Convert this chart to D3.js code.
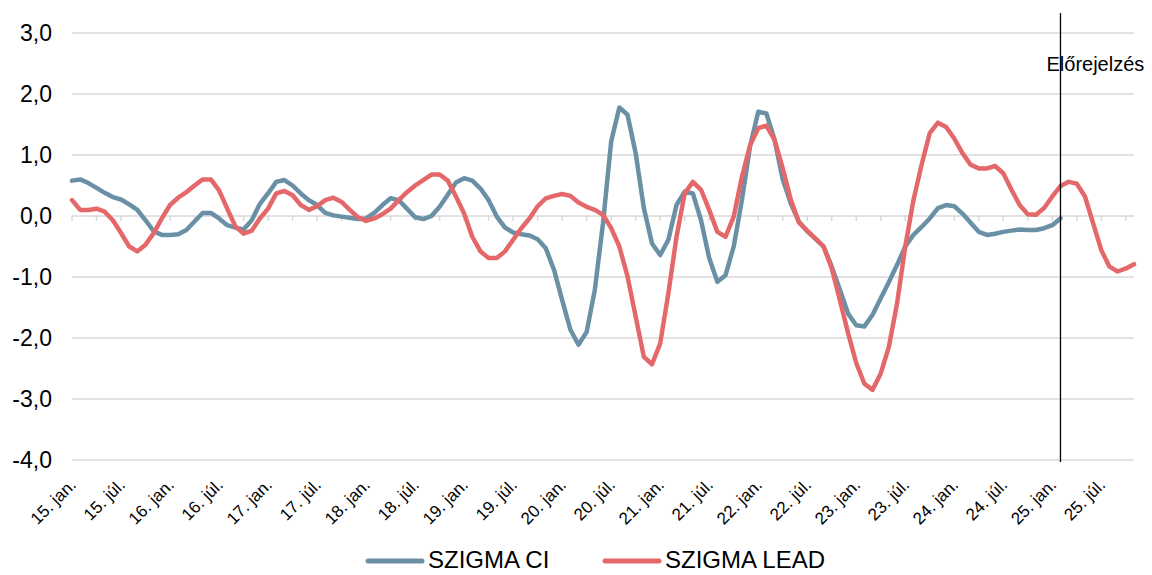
<!DOCTYPE html>
<html>
<head>
<meta charset="utf-8">
<script src="https://cdn.jsdelivr.net/npm/d3@7"></script>
<style>
  body { margin: 0; background: #fff; }
  svg { display: block; font-family: "Liberation Sans", Arial, sans-serif; }
</style>
</head>
<body>
<script>
// monthly data, 2015 jan .. 2025 nov
var months = d3.timeMonths(new Date(2015, 0, 1), new Date(2025, 11, 1));

var tickLabels = ["15. jan.", "15. júl.", "16. jan.", "16. júl.", "17. jan.", "17. júl.",
  "18. jan.", "18. júl.", "19. jan.", "19. júl.", "20. jan.", "20. júl.", "21. jan.",
  "21. júl.", "22. jan.", "22. júl.", "23. jan.", "23. júl.", "24. jan.", "24. júl.",
  "25. jan.", "25. júl."];

var yTicks = [3, 2, 1, 0, -1, -2, -3, -4];

var seriesNames = ["SZIGMA CI", "SZIGMA LEAD"];
var seriesColors = ["#6a90a6", "#e4686a"];

var ci = [0.58, 0.60, 0.54, 0.46, 0.38, 0.31, 0.27, 0.19, 0.10, -0.07,
  -0.25, -0.31, -0.31, -0.30, -0.23, -0.09, 0.05, 0.05, -0.04, -0.15,
  -0.19, -0.22, -0.07, 0.20, 0.37, 0.56, 0.59, 0.50, 0.37, 0.26,
  0.18, 0.05, 0.01, -0.01, -0.03, -0.05, -0.04, 0.05, 0.18, 0.29,
  0.26, 0.12, -0.02, -0.05, 0.00, 0.15, 0.35, 0.55, 0.62, 0.58,
  0.45, 0.26, -0.01, -0.19, -0.27, -0.30, -0.32, -0.38, -0.53, -0.88,
  -1.38, -1.86, -2.11, -1.90, -1.21, -0.12, 1.22, 1.78, 1.66, 1.03,
  0.13, -0.45, -0.64, -0.39, 0.18, 0.40, 0.37, -0.07, -0.69, -1.08,
  -0.97, -0.50, 0.26, 1.14, 1.71, 1.68, 1.25, 0.60, 0.20, -0.10,
  -0.25, -0.37, -0.50, -0.83, -1.21, -1.60, -1.79, -1.81, -1.62, -1.35,
  -1.08, -0.80, -0.50, -0.31, -0.18, -0.04, 0.13, 0.18, 0.16, 0.04,
  -0.11, -0.26, -0.31, -0.29, -0.26, -0.24, -0.22, -0.23, -0.23, -0.20,
  -0.15, -0.04];

var lead = [0.26, 0.10, 0.10, 0.12, 0.07, -0.07, -0.28, -0.50, -0.58, -0.47,
  -0.28, -0.04, 0.18, 0.30, 0.39, 0.50, 0.60, 0.60, 0.42, 0.12,
  -0.17, -0.29, -0.24, -0.04, 0.12, 0.37, 0.41, 0.34, 0.18, 0.10,
  0.16, 0.26, 0.30, 0.23, 0.10, -0.02, -0.08, -0.04, 0.03, 0.12,
  0.26, 0.39, 0.50, 0.59, 0.68, 0.68, 0.58, 0.32, 0.04, -0.34,
  -0.58, -0.69, -0.69, -0.58, -0.39, -0.20, -0.04, 0.16, 0.29, 0.33,
  0.36, 0.33, 0.22, 0.15, 0.10, 0.02, -0.20, -0.50, -0.99, -1.65,
  -2.31, -2.43, -2.09, -1.27, -0.34, 0.37, 0.56, 0.43, 0.10, -0.26,
  -0.34, -0.01, 0.64, 1.16, 1.44, 1.48, 1.25, 0.78, 0.26, -0.11,
  -0.24, -0.37, -0.50, -0.86, -1.38, -1.92, -2.41, -2.75, -2.85, -2.58,
  -2.14, -1.43, -0.50, 0.26, 0.84, 1.36, 1.53, 1.46, 1.27, 1.03,
  0.84, 0.78, 0.78, 0.82, 0.70, 0.43, 0.18, 0.03, 0.02, 0.13,
  0.32, 0.49, 0.56, 0.53, 0.32, -0.12, -0.56, -0.83, -0.91, -0.86,
  -0.79];

var forecastIndex = 121; // 25. feb.
var forecastLabel = "Előrejelzés";

var width = 1152, height = 575;
var svg = d3.select("body").append("svg").attr("width", width).attr("height", height);

var x = d3.scalePoint().domain(d3.range(months.length)).range([72, 1134]);
var y = d3.scaleLinear().domain([-4, 3]).range([460, 33]);

// gridlines
svg.append("g").selectAll("line").data(yTicks).enter().append("line")
  .attr("x1", 72).attr("x2", 1134)
  .attr("y1", function(d){ return y(d); }).attr("y2", function(d){ return y(d); })
  .attr("stroke", "#d9d9d9").attr("stroke-width", 1.5);

// small quarterly ticks on the zero line
svg.append("g").selectAll("line").data(d3.range(0, months.length, 3)).enter().append("line")
  .attr("x1", function(d){ return x(d); }).attr("x2", function(d){ return x(d); })
  .attr("y1", y(0)).attr("y2", y(0) + 5)
  .attr("stroke", "#d9d9d9").attr("stroke-width", 1.5);

// y labels
svg.append("g").selectAll("text").data(yTicks).enter().append("text")
  .attr("x", 52).attr("y", function(d){ return y(d); }).attr("dy", "0.36em")
  .attr("text-anchor", "end").attr("font-size", "23px").attr("fill", "#000")
  .text(function(d){ return d3.format(".1f")(d).replace(".", ",").replace("−", "-"); });

// x labels every 6 months
svg.append("g").selectAll("text").data(tickLabels).enter().append("text")
  .attr("transform", function(d, i){ return "translate(" + (x(i * 6) + 5) + ",486) rotate(-45)"; })
  .attr("text-anchor", "end").attr("font-size", "17px").attr("fill", "#000")
  .text(function(d){ return d; });

// lines
var line = d3.line()
  .x(function(d, i){ return x(i); })
  .y(function(d){ return y(d); });

[ci, lead].forEach(function(s, k){
  svg.append("path").datum(s)
    .attr("d", line)
    .attr("fill", "none")
    .attr("stroke", seriesColors[k])
    .attr("stroke-width", 4.5)
    .attr("stroke-linejoin", "round")
    .attr("stroke-linecap", "round");
});

// forecast marker
svg.append("line")
  .attr("x1", x(forecastIndex)).attr("x2", x(forecastIndex))
  .attr("y1", 13).attr("y2", 462)
  .attr("stroke", "#000").attr("stroke-width", 1.3);
svg.append("text")
  .attr("x", x(forecastIndex) - 14).attr("y", 71)
  .attr("font-size", "20px").attr("fill", "#000")
  .text(forecastLabel);

// legend
var legendX = [368, 605];
seriesNames.forEach(function(n, k){
  svg.append("line")
    .attr("x1", legendX[k]).attr("x2", legendX[k] + 54)
    .attr("y1", 561).attr("y2", 561)
    .attr("stroke", seriesColors[k]).attr("stroke-width", 5)
    .attr("stroke-linecap", "round");
  svg.append("text")
    .attr("x", legendX[k] + 60).attr("y", 568)
    .attr("font-size", "24px").attr("fill", "#000")
    .text(n);
});
</script>
</body>
</html>
